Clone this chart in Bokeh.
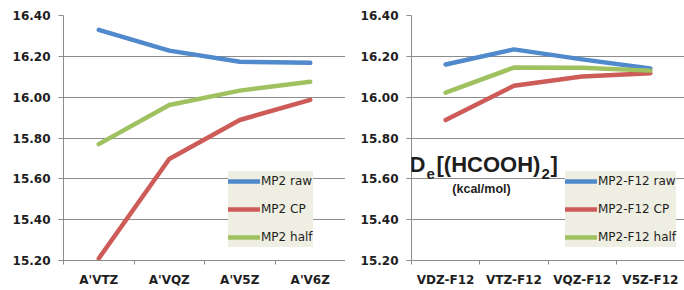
from bokeh.plotting import figure
from bokeh.layouts import row
from bokeh.models import (Range1d, FixedTicker, PrintfTickFormatter, Label,
                          Legend, LegendItem)
from bokeh.embed import file_html
from bokeh.resources import INLINE

# ---- data ----
left_categories = ["A'VTZ", "A'VQZ", "A'V5Z", "A'V6Z"]
mp2_raw = [16.33, 16.228, 16.173, 16.168]
mp2_cp = [15.21, 15.697, 15.888, 15.987]
mp2_half = [15.77, 15.962, 16.032, 16.076]
left_names = ["MP2 raw", "MP2 CP", "MP2 half"]

right_categories = ["VDZ-F12", "VTZ-F12", "VQZ-F12", "V5Z-F12"]
f12_raw = [16.16, 16.234, 16.185, 16.140]
f12_cp = [15.888, 16.056, 16.101, 16.117]
f12_half = [16.022, 16.145, 16.144, 16.130]
right_names = ["MP2-F12 raw", "MP2-F12 CP", "MP2-F12 half"]

y_ticks = [15.2, 15.4, 15.6, 15.8, 16.0, 16.2, 16.4]

COLORS = ["#5089CC", "#CD5B57", "#9FC160"]
GRID = "#8C8C8C"
TXT = "#1E1E1E"
FONT = "DejaVu Sans"


def make_panel(categories, series, names, width, border_left, legend_loc):
    n = len(categories)
    xs = [i + 0.5 for i in range(n)]
    p = figure(width=width, height=290, output_backend="svg",
               toolbar_location=None, x_range=Range1d(0, n),
               y_range=Range1d(y_ticks[0], y_ticks[-1]),
               min_border_left=border_left, min_border_right=0,
               min_border_top=15, min_border_bottom=30)
    p.outline_line_color = None
    p.background_fill_color = "white"
    p.border_fill_color = "white"

    # axes
    xt = FixedTicker(ticks=xs, minor_ticks=list(range(n + 1)))
    p.xaxis.ticker = xt
    p.xaxis.major_label_overrides = {x: c for x, c in zip(xs, categories)}
    p.xaxis.major_tick_out = 0
    p.xaxis.major_tick_in = 0
    p.xaxis.minor_tick_out = 4
    p.xaxis.minor_tick_in = 0
    p.xaxis.minor_tick_line_color = GRID
    p.xaxis.axis_line_color = GRID
    p.xaxis.major_label_standoff = 8
    p.xaxis.major_label_text_font = FONT
    p.xaxis.major_label_text_font_style = "bold"
    p.xaxis.major_label_text_font_size = "12px"
    p.xaxis.major_label_text_color = TXT

    p.yaxis.ticker = FixedTicker(ticks=y_ticks)
    p.yaxis.formatter = PrintfTickFormatter(format="%.2f")
    p.yaxis.major_tick_out = 5
    p.yaxis.major_tick_in = 0
    p.yaxis.minor_tick_line_color = None
    p.yaxis.major_tick_line_color = GRID
    p.yaxis.axis_line_color = GRID
    p.yaxis.major_label_standoff = 8
    p.yaxis.major_label_text_font = FONT
    p.yaxis.major_label_text_font_style = "bold"
    p.yaxis.major_label_text_font_size = "12px"
    p.yaxis.major_label_text_color = TXT

    p.xgrid.visible = False
    p.ygrid.ticker = FixedTicker(ticks=y_ticks)
    p.ygrid.grid_line_color = GRID
    p.ygrid.grid_line_width = 1

    items = []
    for vals, name, col in zip(series, names, COLORS):
        r = p.line(xs, vals, line_color=col, line_width=4.5,
                   line_cap="round", line_join="round")
        items.append(LegendItem(label=name, renderers=[r]))

    leg = Legend(items=items, location=legend_loc)
    leg.background_fill_color = "#EEEEE2"
    leg.background_fill_alpha = 1.0
    leg.border_line_color = None
    leg.padding = 4
    leg.margin = 0
    leg.spacing = 8
    leg.glyph_width = 32
    leg.glyph_height = 20
    leg.label_height = 20
    leg.label_standoff = 1
    leg.label_text_font = FONT
    leg.label_text_font_size = "12px"
    leg.label_text_color = TXT
    p.add_layout(leg, "center")
    return p


left = make_panel(left_categories, [mp2_raw, mp2_cp, mp2_half], left_names,
                  345, 63, (165, 13))
right = make_panel(right_categories, [f12_raw, f12_cp, f12_half], right_names,
                   339, 66, (154, 13))

# title inside right panel
TF = "Liberation Sans"
title_parts = [
    ("D", 15.670, -2, "22px"),
    ("e", 15.622, 15, "15px"),
    ("[(HCOOH)", 15.670, 25, "22px"),
    ("2", 15.622, 130, "15px"),
    ("]", 15.670, 139, "22px"),
]
for txt, yv, xo, fs in title_parts:
    right.add_layout(Label(x=0, y=yv, x_offset=xo, text=txt,
                           text_font=TF, text_font_style="bold",
                           text_font_size=fs, text_color=TXT,
                           text_align="left", text_baseline="middle"))
right.add_layout(Label(x=0, y=15.550, x_offset=70, text="(kcal/mol)",
                       text_font=TF, text_font_style="bold",
                       text_font_size="12.5px", text_color=TXT,
                       text_align="center", text_baseline="middle"))

layout = row(left, right)
open("out.html", "w").write(file_html(layout, INLINE))
